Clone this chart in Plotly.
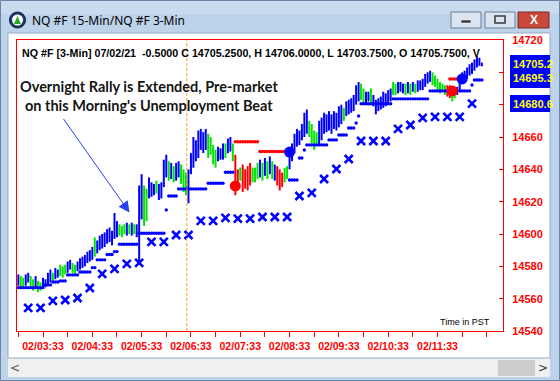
import plotly.graph_objects as go
import pandas as pd

# ---------------- data ----------------
bar_low = [14568,14566,14567,14568,14570,14566,14565,14567,14564,14565,
           14566,14567,14568,14570,14571,14572,14573,14574,14573,14575,
           14576,14578,14576,14575,14577,14578,14579,14580,14582,14583,
           14584,14586,14588,14590,14591,14592,14594,14595,14593,14597,
           14598,14599,14598,14600,14599,14600,14599,14600,14598,14581,
           14609,14605,14608,14622,14623,14624,14625,14621,14622,14629,
           14635,14633,14634,14632,14633,14635,14631,14626,14624,14619,
           14637,14641,14645,14647,14652,14650,14652,14647,14649,14643,
           14641,14645,14646,14646,14647,14650,14651,14645,14624,14627,
           14633,14626,14628,14627,14630,14632,14632,14634,14635,14633,
           14636,14634,14637,14634,14633,14630,14627,14629,14632,14634,
           14640,14645,14650,14654,14655,14658,14660,14662,14660,14656,
           14652,14655,14655,14658,14662,14663,14664,14662,14665,14664,
           14666,14668,14670,14673,14674,14675,14676,14680,14682,14683,
           14680,14681,14682,14680,14679,14674,14676,14677,14678,14679,
           14681,14682,14686,14686,14687,14688,14687,14686,14687,14686,
           14688,14687,14688,14689,14689,14691,14693,14694,14692,14691,
           14688,14687,14688,14686,14685,14684,14682,14684,14686,14689,
           14693,14694,14696,14698,14699,14701,14703,14704,14703.75]
bar_high = [14575,14574,14573,14575,14576,14574,14572,14574,14571,14570,
            14573,14572,14576,14578,14576,14579,14578,14581,14580,14581,
            14583,14584,14582,14581,14583,14585,14586,14587,14589,14590,
            14592,14598,14596,14599,14600,14601,14603,14604,14602,14613,
            14608,14606,14605,14606,14607,14606,14607,14606,14606,14630,
            14637,14630,14628,14635,14632,14631,14633,14631,14632,14646,
            14649,14645,14644,14642,14644,14645,14643,14640,14638,14640,
            14650,14660,14658,14664,14665,14663,14665,14662,14660,14655,
            14652,14654,14653,14656,14656,14659,14660,14656,14649,14640,
            14641,14643,14640,14642,14644,14641,14641,14644,14646,14644,
            14647,14645,14648,14645,14643,14642,14640,14638,14641,14642,
            14651,14656,14662,14665,14664,14668,14675,14677,14670,14668,
            14664,14663,14670,14672,14675,14674,14676,14674,14676,14675,
            14679,14680,14678,14682,14683,14684,14686,14692,14694,14693,
            14690,14688,14688,14690,14686,14683,14684,14685,14688,14687,
            14689,14690,14694,14693,14694,14694,14693,14693,14694,14693,
            14694,14693,14695,14695,14696,14699,14700,14701,14700,14698,
            14696,14694,14693,14692,14692,14692,14690,14690,14691,14697,
            14700,14701,14703,14705,14706,14708,14710,14709,14706]
# b = blue, g = green, r = red bar
bar_color = ("bggbbggbgg" "bbbbgbbggg" "bbggbbbbbb" "bgbbbbbbbb"
             "bgggbgbgbb" "bggbbbgbbb" "bgbgbbgggb" "bbbbbbbggg"
             "gbbbgbbgrr" "grrrrgggbg" "bgbgbrrrgg" "bbbbbbbbgg"
             "ggbbbbbbbb" "bbgbbbbbbg" "gbbgbbbbbb" "bbggbbbgbg"
             "bgbbbbbbgg" "ggggrrggbb" "bbbbbbbbb")

bar_start = "2021-07-02 03:03"   # first 3-min bar
bar_minutes = 3

# trailing-stop dots: level, first bar index, side (b = below/blue, r = above/red)
stop_level = [14566.8,14568.5,14570.3,14571.0,14574.7,14576.5,14579.2,14584.0,
              14587.3,14589.1,14593.7,14600.5,14614.9,14623.5,14627.9,14631.4,
              14638.2,14657.1,14651.0,14633.4,14647.0,14652.0,14655.1,14658.2,
              14661.2,14665.6,14668.7,14673.0,14680.6,14683.6,14688.5,14695.9,
              14688.5,14692.2,14695.3]
stop_first = [0,11,14,17,20,25,30,32,36,39,41,49,60,61,65,77,84,88,98,110,114,116,
              117,126,130,134,137,138,139,152,167,175,179,184,185]
stop_side = "bbbbbbbbbbbbbbbbbrrbbbbbbbbbbbbrbbb"

# 15-min series (X markers)
x15_start = "2021-07-02 03:15"
x15_values = [14554.3,14554.3,14558.6,14559.2,14560.4,14566.6,14575.3,14578.4,
              14581.5,14582.1,14595.1,14595.1,14599.4,14599.4,14608.1,14608.1,
              14610.0,14609.5,14609.5,14610.5,14610.5,14610.5,14623.5,14625.4,
              14634.0,14640.2,14646.4,14657.5,14657.5,14657.5,14665.0,14667.4,
              14671.8,14672.4,14672.4,14672.4,14680.6]

# signal markers: bar index, price, colour
signal_bar = [88, 110, 176, 180]
signal_price = [14629.7, 14650.7, 14688.5, 14695.9]
signal_color = ["r", "b", "r", "b"]

y_ticks = [14540,14560,14580,14600,14620,14640,14660,14680,14700,14720]
# 14680 and 14700 labels are hidden behind the price boxes in the reference
y_tick_labels = ["14540","14560","14580","14600","14620","14640","14660","","","14720"]
x_tick_times = ["2021-07-02 03:33","2021-07-02 04:33","2021-07-02 05:33",
                "2021-07-02 06:33","2021-07-02 07:33","2021-07-02 08:33",
                "2021-07-02 09:33","2021-07-02 10:33","2021-07-02 11:33"]
x_tick_labels = ["02/03:33","02/04:33","02/05:33","02/06:33","02/07:33",
                 "02/08:33","02/09:33","02/10:33","02/11:33"]
session_open = "2021-07-02 06:28"

last_open, last_high, last_low, last_close, last_change = 14705.75, 14706.0, 14703.75, 14705.25, -0.5
price_boxes = ["14705.2", "14695.3", "14680.6"]

# ---------------- figure ----------------
W, H = 560, 381
L, R, T, B = 17, 503, 40, 331
def px(x):
    return (x - L) / (R - L)
def py(y):
    return (B - y) / (B - T)

BLUE, GREEN, RED = "#0000ff", "#00e400", "#ff0000"
cmap = {"b": BLUE, "g": GREEN, "r": RED}

t0 = pd.Timestamp(bar_start)
times = [t0 + pd.Timedelta(minutes=bar_minutes * i) for i in range(len(bar_high))]

fig = go.Figure()

for code in "bgr":
    xs, ys = [], []
    for t, lo, hi, c in zip(times, bar_low, bar_high, bar_color):
        if c == code:
            xs += [t, t, None]
            ys += [lo, hi, None]
    fig.add_trace(go.Scatter(x=xs, y=ys, mode="lines", line=dict(color=cmap[code], width=2),
                             hoverinfo="skip", showlegend=False))

# expand stop steps to per-bar dots
stop_x = {"b": [], "r": []}
stop_y = {"b": [], "r": []}
for k, lvl in enumerate(stop_level):
    first = stop_first[k]
    last = stop_first[k + 1] - 1 if k + 1 < len(stop_first) else len(times) - 1
    for i in range(first, last + 1):
        stop_x[stop_side[k]].append(times[i])
        stop_y[stop_side[k]].append(lvl)
for code in "br":
    fig.add_trace(go.Scatter(x=stop_x[code], y=stop_y[code], mode="markers",
                             marker=dict(color=cmap[code], size=3.4, line=dict(width=0)),
                             hoverinfo="skip", showlegend=False))

t15 = pd.Timestamp(x15_start)
x15_times = [t15 + pd.Timedelta(minutes=15 * i) for i in range(len(x15_values))]
fig.add_trace(go.Scatter(x=x15_times, y=x15_values, mode="markers",
                         marker=dict(symbol="x-thin", size=8, line=dict(width=2.6, color=BLUE)),
                         hoverinfo="skip", showlegend=False))

fig.add_trace(go.Scatter(x=[times[i] for i in signal_bar], y=signal_price, mode="markers",
                         marker=dict(color=[cmap[c] for c in signal_color], size=11, line=dict(width=0)),
                         hoverinfo="skip", showlegend=False))

shapes = []
def rect(x0, y0, x1, y1, fill, line=None, lw=1, layer="below"):
    shapes.append(dict(type="rect", xref="paper", yref="paper",
                       x0=px(x0), x1=px(x1), y0=py(y1), y1=py(y0),
                       fillcolor=fill, line=dict(color=line or fill, width=lw if line else 0),
                       layer=layer))

# window chrome
rect(0, 0, 560, 33, "#bdd3ea")
rect(0, 0, 560, 14, "#c8dbef")
rect(0, 33, 8, 381, "#bdd3ea")
rect(550, 33, 560, 381, "#bdd3ea")
rect(0, 377, 560, 381, "#bdd3ea")
rect(8, 358, 550, 377, "#f0f0f0")
rect(498, 360, 535, 376, "#cdcdcd")
rect(0.5, 0.5, 559.5, 380.5, "rgba(0,0,0,0)", "#6a86a6")
rect(8, 33, 550, 358, "rgba(0,0,0,0)", "#97abc4")
# title bar buttons
rect(451, 12, 481, 28, "#dbe5f2", "#6b7d96")
rect(485, 12, 515, 28, "#dbe5f2", "#6b7d96")
rect(518, 12, 549, 28, "#c8493b", "#7d2b22")
rect(461, 20, 471, 23, "#3a3a3a", "#ffffff", 0.5)
rect(495, 16, 505, 23, "rgba(0,0,0,0)", "#3a3a3a", 1.5)
# icon
shapes.append(dict(type="circle", xref="paper", yref="paper", x0=px(9.5), x1=px(25.5),
                   y0=py(28), y1=py(12), fillcolor="#1d3b6e", line=dict(color="#0e1f3d", width=1)))
shapes.append(dict(type="circle", xref="paper", yref="paper", x0=px(12), x1=px(23),
                   y0=py(25.5), y1=py(14.5), fillcolor="#ffffff", line=dict(width=0)))
shapes.append(dict(type="path", xref="paper", yref="paper",
                   path=f"M {px(14)} {py(24)} L {px(21)} {py(24)} L {px(17.5)} {py(16)} Z",
                   fillcolor="#2aa82a", line=dict(width=0)))
# price boxes
rect(510, 55, 550, 88, BLUE)
rect(510, 95, 550, 112, BLUE)
# session-open line
shapes.append(dict(type="line", xref="x", yref="paper", x0=session_open, x1=session_open,
                   y0=0, y1=1, line=dict(color="#ffa020", width=1, dash="3px,2px")))
fig.update_layout(shapes=shapes)

ann = []
ann.append(dict(text="NQ #F 15-Min/NQ #F 3-Min", xref="paper", yref="paper", x=px(30), y=py(20.5),
                xanchor="left", yanchor="middle", showarrow=False,
                font=dict(family="Noto Sans", size=12, color="#000000")))
ann.append(dict(text="<b>X</b>", xref="paper", yref="paper", x=px(533.5), y=py(20),
                xanchor="center", yanchor="middle", showarrow=False,
                font=dict(family="Arial", size=12, color="#ffffff")))
ann.append(dict(text="<", xref="paper", yref="paper", x=px(15), y=py(367.5),
                xanchor="center", yanchor="middle", showarrow=False,
                font=dict(family="DejaVu Sans", size=12, color="#555555")))
ann.append(dict(text=">", xref="paper", yref="paper", x=px(543), y=py(367.5),
                xanchor="center", yanchor="middle", showarrow=False,
                font=dict(family="DejaVu Sans", size=12, color="#333333")))
header = (f"NQ #F [3-Min] 07/02/21\u00a0 {last_change:.4f} C {last_close:.4f}, H {last_high:.4f}, "
          f"L {last_low:.4f}, O {last_open:.4f}, V")
ann.append(dict(text=header, xref="paper", yref="paper", x=px(20), y=py(53),
                xanchor="left", yanchor="middle", showarrow=False,
                font=dict(family="Arial", size=10.7, color="#000000", weight="bold")))
ann.append(dict(text="Overnight Rally is Extended, Pre-market<br>on this Morning's Unemployment Beat",
                xref="paper", yref="paper", x=px(149), y=py(96), xanchor="center", yanchor="middle",
                showarrow=False, align="center",
                font=dict(family="Lato", size=14.5, color="#151515", weight="bold")))
ann.append(dict(text="", x="2021-07-02 05:18:14", y=14613.3, xref="x", yref="y",
                showarrow=True, ax=-67, ay=-95, arrowhead=2, arrowsize=2.2, arrowwidth=1,
                arrowcolor="#2844f0", standoff=0))
ann.append(dict(text="Time in PST", xref="paper", yref="paper", x=px(492), y=py(322),
                xanchor="right", yanchor="middle", showarrow=False,
                font=dict(family="Arial", size=9, color="#000000")))
for txt, ypx in zip(price_boxes, [64, 78, 104]):
    ann.append(dict(text=txt, xref="paper", yref="paper", x=px(511), y=py(ypx),
                    xanchor="left", yanchor="middle", showarrow=False,
                    font=dict(family="Arial", size=11, color="#ffff00", weight="bold")))
fig.update_layout(annotations=ann)

fig.update_layout(
    template="none",
    width=W, height=H,
    margin=dict(l=L, r=W - R, t=T, b=H - B, pad=0),
    paper_bgcolor="#ffffff", plot_bgcolor="#ffffff",
    showlegend=False, hovermode=False,
    xaxis=dict(type="date", range=["2021-07-02 03:01:22", "2021-07-02 12:52:42"],
               tickvals=x_tick_times, ticktext=x_tick_labels,
               tickfont=dict(family="Arial", size=10.5, color=RED, weight="bold"),
               ticks="outside", ticklen=5, tickwidth=1, tickcolor=RED,
               minor=dict(tick0="2021-07-02 03:03", dtick=30 * 60 * 1000, ticks="outside",
                          ticklen=5, tickwidth=1, tickcolor=RED, showgrid=False),
               showline=True, linecolor=RED, linewidth=1, mirror=True,
               showgrid=False, zeroline=False, automargin=False, fixedrange=True),
    yaxis=dict(side="right", range=[14540, 14720], tickvals=y_ticks, ticktext=y_tick_labels,
               tickfont=dict(family="Arial", size=11, color=RED, weight="bold"),
               ticks="inside", ticklen=4, tickwidth=1, tickcolor=RED, ticklabelstandoff=6,
               showline=True, linecolor=RED, linewidth=1, mirror=True,
               showgrid=False, zeroline=False, automargin=False, fixedrange=True),
)

fig.write_html("out.html")
